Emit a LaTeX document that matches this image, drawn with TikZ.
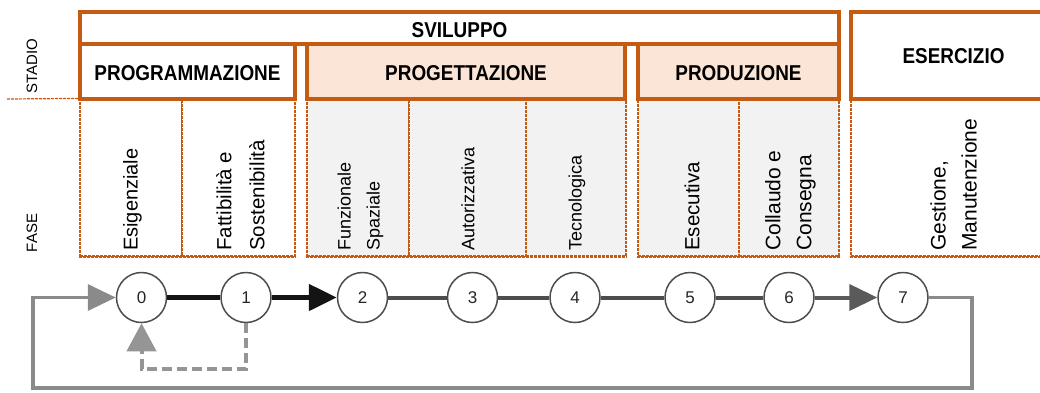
\documentclass[tikz,border=0pt]{standalone}
\usepackage{fontspec}
\setmainfont{Liberation Sans}
\newfontfamily\hdrfont{Liberation Sans}[FakeStretch=0.88]
\usetikzlibrary{arrows.meta}
\definecolor{ora}{HTML}{C55A11}
\definecolor{peach}{HTML}{FBE5D6}
\definecolor{lgray}{HTML}{F2F2F2}
\definecolor{dgray}{HTML}{4D4D4D}
\definecolor{mgray}{HTML}{5A5A5A}
\definecolor{loopgray}{HTML}{8A8A8A}
\definecolor{dashgray}{HTML}{959595}
\tikzset{
  stagebox/.style={draw=ora, line width=3.5pt, inner sep=0pt, text height=18.5pt, text depth=0pt,
    font=\hdrfont\bfseries\fontsize{21.5}{24}\selectfont},
  phasebox/.style={draw=ora, line width=1.2pt, dash pattern=on 3pt off 1pt, inner sep=0pt},
  phasebottom/.style={draw=ora, line width=2.2pt, dash pattern=on 3pt off 1pt},
  ph/.style={rotate=90, anchor=west, inner sep=0pt, align=left, font=\fontsize{20}{32}\selectfont},
  side/.style={rotate=90, inner sep=0pt, font=\fontsize{15}{18}\selectfont},
  numcirc/.style={circle, draw=dgray, line width=1.5pt, fill=white, minimum size=50pt, inner sep=0pt,
    text=black!85, font=\fontsize{17}{20}\selectfont},
  blk/.style={line width=5pt, draw=black!92},
  gry/.style={line width=4pt, draw=dgray},
  loopline/.style={line width=3.5pt, draw=loopgray},
  dashline/.style={line width=4pt, draw=dashgray, dash pattern=on 10pt off 5pt},
  bigtip/.style={-{Triangle[length=28pt,width=26pt]}}
}
\begin{document}
\begin{tikzpicture}[x=1pt,y=-1pt]
\clip (0,0) rectangle (1040,392);
\fill[white] (0,0) rectangle (1040,392);

% phase columns
\node[phasebox, fill=white, minimum width=102pt, minimum height=157pt] (p0) at (131,177.5) {};
\node[phasebox, fill=white, minimum width=113pt, minimum height=157pt] (p1) at (238.5,177.5) {};
\node[phasebox, fill=lgray, minimum width=102pt, minimum height=157pt] (p2) at (358,177.5) {};
\node[phasebox, fill=lgray, minimum width=117pt, minimum height=157pt] (p3) at (467.5,177.5) {};
\node[phasebox, fill=lgray, minimum width=100pt, minimum height=157pt] (p4) at (576,177.5) {};
\node[phasebox, fill=lgray, minimum width=101pt, minimum height=157pt] (p5) at (688.5,177.5) {};
\node[phasebox, fill=lgray, minimum width=100pt, minimum height=157pt] (p6) at (789,177.5) {};
\node[phasebox, fill=white, minimum width=209pt, minimum height=157pt] (p7) at (955.5,177.5) {};
\draw[phasebottom] (p0.south west) -- (p1.south east);
\draw[phasebottom] (p2.south west) -- (p4.south east);
\draw[phasebottom] (p5.south west) -- (p6.south east);
\draw[phasebottom] (p7.south west) -- (p7.south east);

% phase texts
\node[ph] (t0) at (132.5,251) {Esigenziale};
\node[ph, font=\fontsize{20.5}{33}\selectfont] (t1) at (240.5,251) {Fattibilità e\\Sostenibilità};
\node[ph, font=\fontsize{18}{29}\selectfont] (t2) at (360.5,251) {Funzionale\\Spaziale};
\node[ph, font=\fontsize{18}{29}\selectfont] (t3) at (468,251) {Autorizzativa};
\node[ph, font=\fontsize{18}{29}\selectfont] (t4) at (577,251) {Tecnologica};
\node[ph, font=\fontsize{20.5}{31}\selectfont] (t5) at (692,251) {Esecutiva};
\node[ph, font=\fontsize{21}{31}\selectfont] (t6) at (790.5,251) {Collaudo e\\Consegna};
\node[ph, font=\fontsize{21}{31}\selectfont] (t7) at (953.5,251) {Gestione,\\Manutenzione};

% stage boxes
\node[stagebox, fill=white, minimum width=759pt, minimum height=32pt] (svil) at (459.5,28) {SVILUPPO};
\node[stagebox, fill=white, minimum width=215pt, minimum height=55pt] (prog) at (187.5,71.5) {PROGRAMMAZIONE};
\node[stagebox, fill=peach, minimum width=318pt, minimum height=55pt] (proj) at (466,71.5) {PROGETTAZIONE};
\node[stagebox, fill=peach, minimum width=201pt, minimum height=55pt] (prod) at (738.5,71.5) {PRODUZIONE};
\node[stagebox, fill=white, minimum width=205pt, minimum height=87pt, text height=15.5pt] (eser) at (953.5,55.5) {ESERCIZIO};

% side labels
\node[side] (stadio) at (32,66.5) {STADIO};
\node[side] (fase) at (32,233) {FASE};
\coordinate (sl) at (7,99);
\draw[phasebox] (sl) -- (p0.north west);

% circles
\node[numcirc] (c0) at (141.5,297.5) {0};
\node[numcirc] (c1) at (246,297.5) {1};
\node[numcirc] (c2) at (362.5,297.5) {2};
\node[numcirc] (c3) at (472.5,297.5) {3};
\node[numcirc] (c4) at (575,297.5) {4};
\node[numcirc] (c5) at (690,297.5) {5};
\node[numcirc] (c6) at (789,297.5) {6};
\node[numcirc] (c7) at (903,297.5) {7};

% connectors
\draw[blk] (c0) -- (c1);
\draw[blk, bigtip] (c1) -- (c2);
\draw[gry] (c2) -- (c3);
\draw[gry] (c3) -- (c4);
\draw[gry] (c4) -- (c5);
\draw[gry] (c5) -- (c6);
\draw[gry, draw=mgray, -{Triangle[length=28pt,width=26pt]}] (c6) -- (c7);

\coordinate (lr) at (972,297.5);
\coordinate (lrb) at (972,388);
\coordinate (llb) at (33,388);
\coordinate (llt) at (33,297.5);
\draw[loopline, -{Triangle[length=28pt,width=26pt]}] (c7.east) -- (lr) -- (lrb) -- (llb) -- (llt) -- (c0.west);

\coordinate (d1) at (246,369);
\coordinate (d0) at (141.5,369);
\draw[dashline, -{Triangle[length=28pt,width=29pt]}] (c1.south) -- (d1) -- (d0) -- (c0.south);
\end{tikzpicture}
\end{document}
